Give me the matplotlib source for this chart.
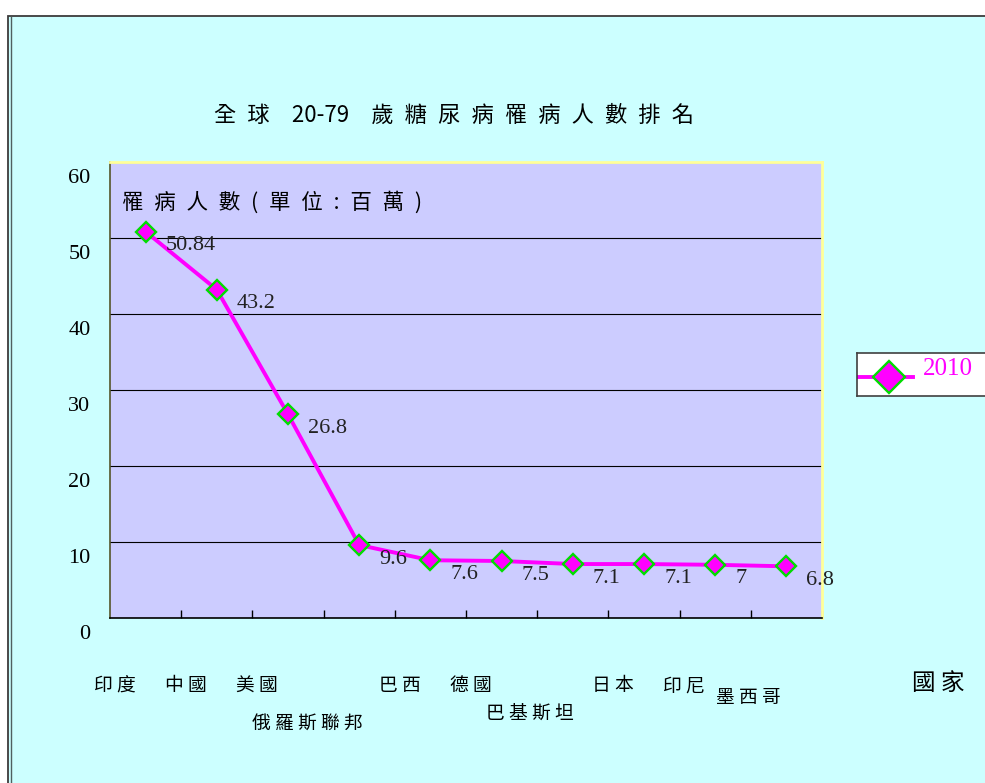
import matplotlib
matplotlib.use('Agg')
import matplotlib.pyplot as plt
from matplotlib.patches import Rectangle
from matplotlib.lines import Line2D
from matplotlib.transforms import ScaledTranslation

plt.rcParams['font.family'] = ['Noto Sans CJK TC', 'DejaVu Sans']

# 資料
countries = ['印度', '中國', '美國', '俄羅斯聯邦', '巴西', '德國', '巴基斯坦', '日本', '印尼', '墨西哥']
patients = [50.84, 43.2, 26.8, 9.6, 7.6, 7.5, 7.1, 7.1, 7, 6.8]
yticks = [0, 10, 20, 30, 40, 50, 60]
series_name = '2010'
title_head = '全球'
title_age = '20-79'
title_tail = '歲糖尿病罹病人數排名'
ylabel = '罹病人數(單位:百萬)'
xlabel = '國家'

# 類別標籤錯開的距離(px): 往下 / 往左
label_drop = [0, 0, 0, 37, 0, 0, 27, 0, 0, 12]
label_nudge = [0, 0, 0, -21, 0, 0, -12, 0, 0, -7]

W, H = 985, 783


def fx(px):
    return px / W


def fy(py):
    return 1 - py / H


def spaced(s, gap='\u2002'):
    # 字距: 每個字之間加空白
    return gap.join(s)


fig = plt.figure(figsize=(W / 100, H / 100), dpi=100, facecolor='white')

# 外框 + 淺藍底
fig.patches.append(Rectangle((fx(7.5), -0.05), 1.1, fy(16.5) + 0.05, transform=fig.transFigure,
                             facecolor='#CCFFFF', edgecolor='#3c3c3c', lw=1.3, zorder=-2))
fig.add_artist(Line2D([fx(10.5), fx(10.5)], [0, fy(17)], transform=fig.transFigure,
                      color='#506060', lw=1, zorder=-1))

ax = fig.add_axes([fx(110), fy(618), fx(822) - fx(110), fy(162) - fy(618)])
ax.set_facecolor('#CCCCFF')

x = list(range(len(countries)))
ax.plot(x, patients, color='#FF00FF', lw=2.8, marker='D', ms=10.5,
        mfc='#FF00FF', mec='#00DD00', mew=1.7, zorder=3)

ax.set_xlim(-0.5, len(countries) - 0.5)
ax.set_ylim(yticks[0], yticks[-1])
ax.set_yticks(yticks)
ax.set_yticklabels([str(v) for v in yticks], fontfamily='Liberation Serif', fontsize=16)
ax.tick_params(axis='y', length=0, pad=14)
shift = ScaledTranslation(0, -0.14, fig.dpi_scale_trans)
for lab in ax.get_yticklabels():
    lab.set_transform(lab.get_transform() + shift)

ax.set_xticks([i + 0.5 for i in x])
ax.set_xticklabels([])
ax.tick_params(axis='x', direction='in', length=6, width=1, color='black')

ax.yaxis.grid(True, color='black', lw=0.8)
ax.set_axisbelow(True)

ax.spines['left'].set_color('#55552a')
ax.spines['left'].set_linewidth(1.2)
ax.spines['bottom'].set_color('black')
ax.spines['bottom'].set_linewidth(1.2)
ax.spines['top'].set_color('#FFFF99')
ax.spines['top'].set_linewidth(2)
ax.spines['right'].set_color('#FFFF99')
ax.spines['right'].set_linewidth(2)

# 數值標籤
for i, v in enumerate(patients):
    ax.annotate(f'{v:g}', (i, v), xytext=(20, -14), textcoords='offset pixels',
                ha='left', va='center', fontfamily='Liberation Serif', fontsize=16,
                color='#222222', zorder=4)

# 國家名稱
for i, name in enumerate(countries):
    ax.annotate(spaced(name, ' '), (i, 0), xycoords=('data', 'axes fraction'),
                xytext=(-31 + label_nudge[i], -68 - label_drop[i]), textcoords='offset pixels',
                ha='center', va='center', fontsize=13.5, annotation_clip=False)

fig.text(fx(454), fy(115),
         spaced(title_head) + '\u2002\u2002' + title_age + '\u2002\u2002' + spaced(title_tail),
         ha='center', va='center', fontsize=16)
fig.text(fx(122), fy(203), spaced(ylabel), ha='left', va='center', fontsize=15.5, zorder=5)
fig.text(fx(938), fy(683), spaced(xlabel, ' '), ha='center', va='center', fontsize=17)

# 圖例
lax = fig.add_axes([fx(857), fy(396), fx(995) - fx(857), fy(353) - fy(396)])
lax.set_xlim(0, 138)
lax.set_ylim(43, 0)
lax.set_facecolor('white')
lax.set_xticks([])
lax.set_yticks([])
for sp in lax.spines.values():
    sp.set_color('#404040')
    sp.set_linewidth(1.2)
lax.plot([0, 32, 56], [24, 24, 24], color='#FF00FF', lw=2.8, marker='D', ms=16,
         mfc='#FF00FF', mec='#00DD00', mew=1.7, markevery=[1])
lax.text(66, 16, series_name, ha='left', va='center', fontfamily='Liberation Serif',
         fontsize=18, color='#FF00FF')

fig.savefig('out.png', dpi=100, facecolor=fig.get_facecolor())
